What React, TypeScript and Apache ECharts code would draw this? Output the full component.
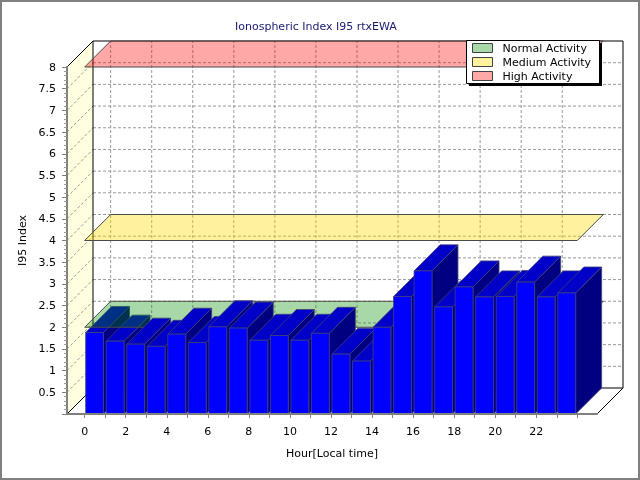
import React, { useEffect, useRef } from "react";
import * as echarts from "echarts";

// ---- data ----
const hours = [0, 1, 2, 3, 4, 5, 6, 7, 8, 9, 10, 11, 12, 13, 14, 15, 16, 17, 18, 19, 20, 21, 22, 23];
const i95Values = [1.88, 1.68, 1.61, 1.56, 1.84, 1.65, 2.01, 1.98, 1.7, 1.81, 1.7, 1.86, 1.38, 1.22, 2.0, 2.71, 3.3, 2.47, 2.93, 2.7, 2.71, 3.04, 2.7, 2.79];
const xLabelValues = [0, 2, 4, 6, 8, 10, 12, 14, 16, 18, 20, 22];
const xTickValues = [0, 1, 2, 3, 4, 5, 6, 7, 8, 9, 10, 11, 12, 13, 14, 15, 16, 17, 18, 19, 20, 21, 22, 23, 24];
const yGridValues = [0.5, 1, 1.5, 2, 2.5, 3, 3.5, 4, 4.5, 5, 5.5, 6, 6.5, 7, 7.5];
const bandNames = ["Normal Activity", "Medium Activity", "High Activity"];
const bandLevels = [2, 4, 8];
const bandColors = ["rgba(0,140,0,0.34)", "rgba(255,220,0,0.38)", "rgba(255,0,0,0.34)"];
const bandRange = [0, 24];

const X_MIN = -0.86;
const X_MAX = 24.96;
const Y_MIN = 0;
const Y_MAX = 8;
const DX = 26;
const DY = -26;
const BAR_L = 0.05;
const BAR_R = 0.92;

const d = (pt: number[]) => [pt[0] + DX, pt[1] + DY];

const gridLine = { stroke: "#999999", lineWidth: 1, lineDash: [3, 2] };

function frameItem(params: any, api: any) {
  const p = (x: number, y: number) => api.coord([x, y]);
  const fl0 = p(X_MIN, Y_MIN);
  const fl8 = p(X_MIN, Y_MAX);
  const fr0 = p(X_MAX, Y_MIN);
  const b8 = d(fl8);
  const br0 = d(fr0);
  const children: any[] = [];
  children.push({ type: "polygon", z2: 0, shape: { points: [fl0, fl8, d(fl8), d(fl0)] }, style: { fill: "#FFFFE0" } });
  children.push({ type: "polygon", z2: 0, shape: { points: [fl0, fr0, d(fr0), d(fl0)] }, style: { fill: "#ffffff" } });
  children.push({
    type: "rect", z2: 1,
    shape: { x: b8[0], y: b8[1], width: br0[0] - b8[0], height: br0[1] - b8[1] },
    style: { fill: "#ffffff" },
  });
  yGridValues.forEach((v) => {
    const a = p(X_MIN, v);
    const b = d(a);
    const c = d(p(X_MAX, v));
    children.push({ type: "line", z2: 2, shape: { x1: b[0], y1: b[1], x2: c[0], y2: c[1] }, style: gridLine });
    children.push({ type: "line", z2: 2, shape: { x1: a[0], y1: a[1], x2: b[0], y2: b[1] }, style: gridLine });
  });
  xLabelValues.forEach((h) => {
    const a = d(p(h, Y_MIN));
    const b = d(p(h, Y_MAX));
    children.push({ type: "line", z2: 2, shape: { x1: a[0], y1: a[1], x2: b[0], y2: b[1] }, style: gridLine });
  });
  children.push({
    type: "rect", z2: 3,
    shape: { x: b8[0], y: b8[1], width: br0[0] - b8[0], height: br0[1] - b8[1] },
    style: { fill: "none", stroke: "#000", lineWidth: 1 },
  });
  const edges = [
    [fl8, d(fl8)],
    [fl0, d(fl0)],
    [fr0, d(fr0)],
  ];
  edges.forEach(([a, b]) => {
    children.push({ type: "line", z2: 3, shape: { x1: a[0], y1: a[1], x2: b[0], y2: b[1] }, style: { stroke: "#000", lineWidth: 1 } });
  });
  return { type: "group", children };
}

function bandItem(zLevel: number) {
  return (params: any, api: any) => {
    const level = api.value(1);
    const a = api.coord([bandRange[0], level]);
    const b = api.coord([bandRange[1], level]);
    return {
      type: "polygon",
      z2: zLevel,
      shape: { points: [a, b, d(b), d(a)] },
      style: { fill: api.visual("color"), stroke: "#4a4a4a", lineWidth: 1 },
    };
  };
}

function barItem(params: any, api: any) {
  const h = api.value(0);
  const v = api.value(1);
  const tl = api.coord([h + BAR_L, v]);
  const tr = api.coord([h + BAR_R, v]);
  const bl = api.coord([h + BAR_L, 0]);
  const br = api.coord([h + BAR_R, 0]);
  const z = (params.dataIndex < 2 ? 10 : 30) + params.dataIndex;
  const edge = { stroke: "#404078", lineWidth: 0.8 };
  return {
    type: "group",
    children: [
      { type: "polygon", z2: z, shape: { points: [tr, br, d(br), d(tr)] }, style: { fill: "#000080", ...edge } },
      { type: "polygon", z2: z, shape: { points: [tl, tr, d(tr), d(tl)] }, style: { fill: "#0000C8", ...edge } },
      { type: "rect", z2: z, shape: { x: tl[0], y: tl[1], width: tr[0] - tl[0], height: bl[1] - tl[1] }, style: { fill: "#0000FF", ...edge } },
    ],
  };
}

const axisLineStyle = { color: "#808080", width: 2 };

export default function App() {
  const ref = useRef<HTMLDivElement>(null);
  useEffect(() => {
    if (!ref.current) return;
    const chart = echarts.init(ref.current, undefined, { renderer: "svg" });
    const bandSeries = bandNames.map((name, i) => ({
      type: "custom",
      name,
      coordinateSystem: "cartesian2d",
      renderItem: bandItem(i === 0 ? 20 : 60),
      itemStyle: { color: bandColors[i] },
      encode: { x: 0, y: 1 },
      data: [[bandRange[0], bandLevels[i]]],
      silent: true,
    }));
    chart.setOption({
      animation: false,
      textStyle: { fontFamily: "DejaVu Sans" },
      title: {
        text: "Ionospheric Index I95 rtxEWA",
        left: 235,
        top: 21,
        padding: 0,
        textStyle: { fontSize: 11, fontWeight: "normal", color: "#191970", fontFamily: "DejaVu Sans" },
      },
      grid: { left: 67, right: 43, top: 67, bottom: 66, containLabel: false },
      legend: {
        orient: "vertical",
        left: 472,
        top: 41,
        padding: 0,
        itemGap: 0,
        itemWidth: 20,
        itemHeight: 9,
        icon: "rect",
        selectedMode: false,
        data: bandNames,
        itemStyle: { borderColor: "#404040", borderWidth: 1 },
        textStyle: { fontSize: 11, color: "#000", lineHeight: 14, padding: [0, 0, 0, 5], fontFamily: "DejaVu Sans" },
        z: 6,
      },
      graphic: [
        { type: "rect", z: 5, shape: { x: 1, y: 1, width: 638, height: 478 }, style: { fill: "none", stroke: "#808080", lineWidth: 2 } },
        { type: "rect", z: 5, shape: { x: 469, y: 43, width: 133, height: 43 }, style: { fill: "#000" } },
        { type: "rect", z: 5, z2: 1, shape: { x: 466.5, y: 40.5, width: 133, height: 43 }, style: { fill: "#fff", stroke: "#000", lineWidth: 1 } },
      ],
      xAxis: {
        type: "value",
        min: X_MIN,
        max: X_MAX,
        z: 5,
        name: "Hour[Local time]",
        nameLocation: "middle",
        nameGap: 34,
        nameTextStyle: { fontSize: 11, color: "#000" },
        axisLine: { show: true, onZero: false, lineStyle: axisLineStyle },
        axisTick: { show: true, customValues: xTickValues, length: 4, lineStyle: { color: "#808080" } },
        axisLabel: { customValues: xLabelValues, margin: 12, fontSize: 11, color: "#000" },
        splitLine: { show: false },
      },
      yAxis: {
        type: "value",
        min: Y_MIN,
        max: Y_MAX,
        interval: 0.5,
        z: 5,
        name: "I95 Index",
        nameLocation: "middle",
        nameGap: 33,
        nameRotate: 90,
        nameTextStyle: { fontSize: 11, color: "#000" },
        axisLine: { show: true, onZero: false, lineStyle: axisLineStyle },
        axisTick: { show: true, length: 5, lineStyle: { color: "#808080" } },
        minorTick: { show: true, splitNumber: 5, length: 3, lineStyle: { color: "#9a9a9a" } },
        axisLabel: { margin: 11, fontSize: 11, color: "#000", formatter: (v: number) => (v === 0 ? "" : String(v)) },
        splitLine: { show: false },
      },
      series: [
        {
          type: "custom",
          name: "frame",
          coordinateSystem: "cartesian2d",
          renderItem: frameItem,
          encode: { x: 0, y: 1 },
          data: [[0, 0]],
          silent: true,
        },
        {
          type: "custom",
          name: "I95",
          coordinateSystem: "cartesian2d",
          renderItem: barItem,
          encode: { x: 0, y: 1 },
          data: hours.map((h, i) => [h, i95Values[i]]),
        },
        ...bandSeries,
      ],
    });
    return () => chart.dispose();
  }, []);
  return <div ref={ref} style={{ position: "fixed", left: 0, top: 0, width: 640, height: 480 }} />;
}
